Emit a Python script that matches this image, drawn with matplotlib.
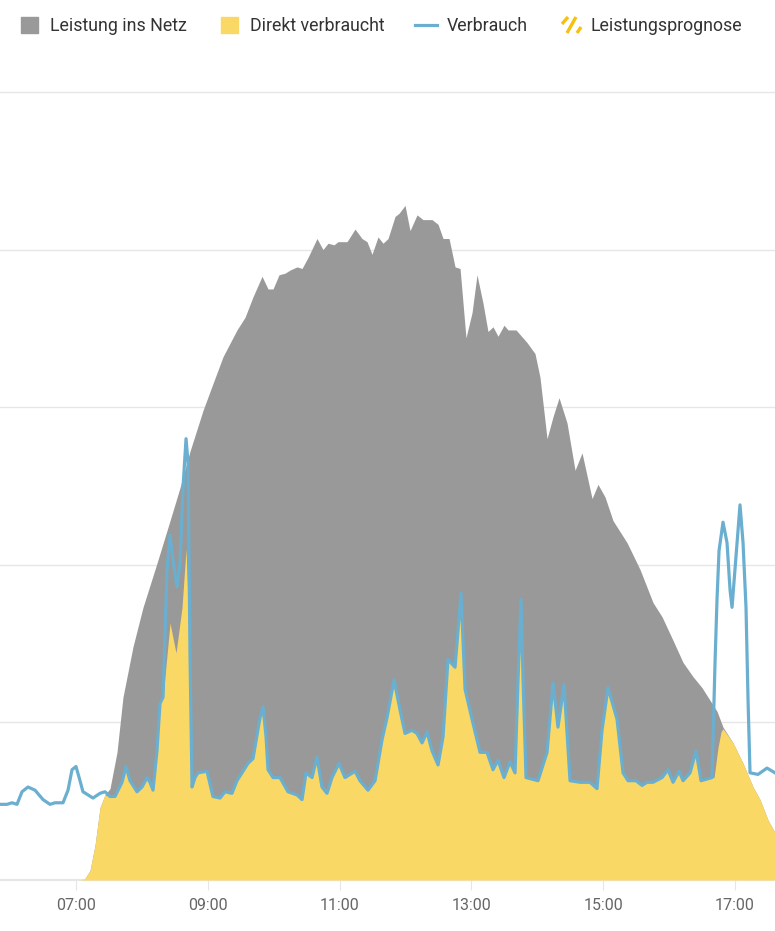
import matplotlib
matplotlib.use('Agg')
import matplotlib.pyplot as plt
from matplotlib.patches import Rectangle
from matplotlib.lines import Line2D

# Leistung (kW) ueber die Uhrzeit (Stunden, dezimal)
prod_hours = [7.061, 7.137, 7.213, 7.289, 7.365, 7.440, 7.516, 7.622, 7.713, 7.865,
	8.017, 8.229, 8.427, 8.579, 8.730, 8.928, 9.079, 9.231, 9.443, 9.565,
	9.686, 9.823, 9.914, 9.990, 10.081, 10.172, 10.248, 10.354, 10.430, 10.521,
	10.657, 10.748, 10.824, 10.915, 10.976, 11.113, 11.234, 11.340, 11.416, 11.492,
	11.583, 11.659, 11.735, 11.841, 11.902, 11.993, 12.069, 12.175, 12.266, 12.403,
	12.494, 12.570, 12.661, 12.752, 12.828, 12.918, 13.010, 13.085, 13.176, 13.252,
	13.328, 13.404, 13.495, 13.556, 13.677, 13.844, 13.965, 14.041, 14.148, 14.239,
	14.330, 14.451, 14.573, 14.679, 14.831, 14.921, 15.028, 15.149, 15.362, 15.559,
	15.756, 15.893, 16.060, 16.212, 16.363, 16.500, 16.621, 16.727, 16.818, 16.970,
	17.122, 17.274, 17.380, 17.501, 17.607, 17.835, 17.990]
prod_kw = [0.00, 0.01, 0.06, 0.22, 0.46, 0.54, 0.58, 0.81, 1.16, 1.48,
	1.73, 2.01, 2.28, 2.49, 2.72, 2.98, 3.15, 3.32, 3.49, 3.57,
	3.70, 3.83, 3.75, 3.75, 3.84, 3.85, 3.87, 3.89, 3.88, 3.95,
	4.07, 4.00, 4.04, 4.03, 4.05, 4.05, 4.13, 4.07, 4.05, 3.97,
	4.08, 4.04, 4.07, 4.21, 4.23, 4.28, 4.12, 4.22, 4.19, 4.19,
	4.16, 4.07, 4.07, 3.89, 3.88, 3.44, 3.60, 3.84, 3.66, 3.48,
	3.51, 3.45, 3.52, 3.49, 3.49, 3.41, 3.34, 3.19, 2.80, 2.94,
	3.06, 2.90, 2.60, 2.71, 2.42, 2.51, 2.43, 2.28, 2.14, 1.97,
	1.76, 1.67, 1.52, 1.38, 1.29, 1.22, 1.14, 1.07, 0.97, 0.87,
	0.74, 0.59, 0.51, 0.38, 0.30, 0.06, 0.00]

cons_hours = [5.847, 5.953, 6.029, 6.105, 6.181, 6.272, 6.378, 6.500, 6.606, 6.682,
	6.803, 6.879, 6.940, 7.000, 7.061, 7.106, 7.182, 7.258, 7.365, 7.440,
	7.516, 7.592, 7.698, 7.759, 7.820, 7.926, 8.002, 8.078, 8.123, 8.169,
	8.229, 8.275, 8.321, 8.381, 8.427, 8.472, 8.533, 8.579, 8.624, 8.670,
	8.700, 8.730, 8.761, 8.806, 8.852, 8.988, 9.079, 9.186, 9.261, 9.367,
	9.443, 9.534, 9.610, 9.686, 9.793, 9.838, 9.884, 9.914, 9.990, 10.096,
	10.217, 10.354, 10.430, 10.490, 10.582, 10.657, 10.733, 10.809, 10.885, 10.991,
	11.082, 11.234, 11.310, 11.431, 11.538, 11.644, 11.720, 11.826, 11.917, 11.993,
	12.099, 12.175, 12.251, 12.327, 12.403, 12.494, 12.570, 12.645, 12.752, 12.843,
	12.904, 13.010, 13.131, 13.237, 13.328, 13.404, 13.495, 13.586, 13.662, 13.708,
	13.753, 13.784, 13.829, 14.011, 14.148, 14.239, 14.314, 14.406, 14.497, 14.649,
	14.800, 14.906, 14.982, 15.073, 15.210, 15.301, 15.377, 15.498, 15.589, 15.665,
	15.756, 15.893, 15.984, 16.060, 16.151, 16.212, 16.318, 16.409, 16.485, 16.651,
	16.697, 16.727, 16.758, 16.818, 16.879, 16.925, 16.955, 17.000, 17.031, 17.076,
	17.122, 17.167, 17.198, 17.228, 17.349, 17.486, 17.607]
cons_kw = [0.48, 0.48, 0.49, 0.48, 0.56, 0.59, 0.57, 0.51, 0.48, 0.49,
	0.49, 0.57, 0.70, 0.72, 0.63, 0.56, 0.54, 0.52, 0.55, 0.56,
	0.53, 0.53, 0.62, 0.72, 0.63, 0.56, 0.59, 0.65, 0.62, 0.57,
	0.82, 1.12, 1.16, 1.97, 2.19, 2.03, 1.86, 2.01, 2.49, 2.80,
	2.65, 1.44, 0.59, 0.65, 0.68, 0.69, 0.53, 0.52, 0.56, 0.55,
	0.63, 0.69, 0.74, 0.77, 1.03, 1.10, 0.91, 0.70, 0.65, 0.65,
	0.56, 0.54, 0.51, 0.68, 0.65, 0.78, 0.59, 0.55, 0.65, 0.74,
	0.65, 0.69, 0.63, 0.57, 0.63, 0.89, 1.03, 1.27, 1.08, 0.93,
	0.95, 0.93, 0.87, 0.94, 0.82, 0.73, 0.91, 1.40, 1.35, 1.82,
	1.21, 1.02, 0.81, 0.81, 0.70, 0.76, 0.65, 0.75, 0.68, 1.27,
	1.78, 1.27, 0.65, 0.63, 0.81, 1.25, 0.97, 1.24, 0.63, 0.62,
	0.62, 0.58, 0.95, 1.22, 1.02, 0.68, 0.63, 0.63, 0.60, 0.62,
	0.62, 0.65, 0.70, 0.62, 0.69, 0.63, 0.68, 0.82, 0.63, 0.65,
	1.38, 1.78, 2.09, 2.27, 2.14, 1.84, 1.73, 1.97, 2.14, 2.38,
	2.14, 1.73, 1.14, 0.68, 0.67, 0.71, 0.68]

direct_hours = [7.061, 7.137, 7.213, 7.289, 7.365, 7.440, 7.516, 7.592, 7.698, 7.759,
	7.820, 7.926, 8.002, 8.078, 8.123, 8.169, 8.229, 8.275, 8.321, 8.427,
	8.518, 8.609, 8.670, 8.730, 8.761, 8.806, 8.852, 8.988, 9.079, 9.186,
	9.261, 9.367, 9.443, 9.534, 9.610, 9.686, 9.793, 9.838, 9.884, 9.914,
	9.990, 10.096, 10.217, 10.354, 10.430, 10.490, 10.582, 10.657, 10.733, 10.809,
	10.885, 10.991, 11.082, 11.234, 11.310, 11.431, 11.538, 11.644, 11.720, 11.826,
	11.917, 11.993, 12.099, 12.175, 12.251, 12.327, 12.403, 12.494, 12.570, 12.645,
	12.752, 12.843, 12.904, 13.010, 13.131, 13.237, 13.328, 13.404, 13.495, 13.586,
	13.662, 13.708, 13.753, 13.784, 13.829, 14.011, 14.148, 14.239, 14.314, 14.406,
	14.497, 14.649, 14.800, 14.906, 14.982, 15.073, 15.210, 15.301, 15.377, 15.498,
	15.589, 15.665, 15.756, 15.893, 15.984, 16.060, 16.151, 16.212, 16.318, 16.409,
	16.485, 16.651, 16.682, 16.742, 16.788, 16.818, 16.970, 17.122, 17.274, 17.380,
	17.501, 17.607, 17.835, 17.990]
direct_kw = [0.00, 0.01, 0.06, 0.22, 0.46, 0.54, 0.53, 0.53, 0.62, 0.72,
	0.63, 0.56, 0.59, 0.65, 0.62, 0.57, 0.82, 1.12, 1.16, 1.63,
	1.44, 1.73, 2.10, 1.44, 0.59, 0.65, 0.68, 0.69, 0.53, 0.52,
	0.56, 0.55, 0.63, 0.69, 0.74, 0.77, 1.03, 1.10, 0.91, 0.70,
	0.65, 0.65, 0.56, 0.54, 0.51, 0.68, 0.65, 0.78, 0.59, 0.55,
	0.65, 0.74, 0.65, 0.69, 0.63, 0.57, 0.63, 0.89, 1.03, 1.27,
	1.08, 0.93, 0.95, 0.93, 0.87, 0.94, 0.82, 0.73, 0.91, 1.40,
	1.35, 1.82, 1.21, 1.02, 0.81, 0.81, 0.70, 0.76, 0.65, 0.75,
	0.68, 1.27, 1.59, 1.27, 0.65, 0.63, 0.81, 1.25, 0.97, 1.24,
	0.63, 0.62, 0.62, 0.58, 0.95, 1.22, 1.02, 0.68, 0.63, 0.63,
	0.60, 0.62, 0.62, 0.65, 0.70, 0.62, 0.69, 0.63, 0.68, 0.82,
	0.63, 0.65, 0.65, 0.84, 0.94, 0.96, 0.87, 0.74, 0.59, 0.51,
	0.38, 0.30, 0.06, 0.00]

tick_hours = [7, 9, 11, 13, 15, 17]
tick_labels = ['07:00', '09:00', '11:00', '13:00', '15:00', '17:00']
legend_labels = ['Leistung ins Netz', 'Direkt verbraucht', 'Verbrauch', 'Leistungsprognose']

GREY = '#999999'
YELLOW = '#fad866'
BLUE = '#6aafd0'
GOLD = '#f5c010'
GRID = '#e6e6e6'

plt.rcParams['font.family'] = ['Roboto', 'DejaVu Sans']

W, H = 775, 931
fig = plt.figure(figsize=(W / 100, H / 100), dpi=100)
ax = fig.add_axes([0, 51 / H, 1, (880 - 88.8) / H])

ax.fill_between(prod_hours, prod_kw, 0, color=GREY, lw=0, zorder=2)
ax.fill_between(direct_hours, direct_kw, 0, color=YELLOW, lw=0, zorder=3)
ax.plot(cons_hours, cons_kw, color=BLUE, lw=2.3, solid_joinstyle='round', zorder=4)

ax.set_xlim(5.847, 17.607)
ax.set_ylim(0, 5.02)
ax.set_yticks([1, 2, 3, 4, 5])
ax.yaxis.grid(True, color=GRID, lw=1.0, zorder=0)
ax.tick_params(axis='y', left=False, labelleft=False)
ax.set_xticks(tick_hours)
ax.set_xticklabels(tick_labels)
ax.tick_params(axis='x', length=7, width=0.8, color=GRID, labelcolor='#666666',
	labelsize=11.5, pad=6)
for side in ['left', 'right', 'top']:
	ax.spines[side].set_visible(False)
ax.spines['bottom'].set_color(GRID)
ax.spines['bottom'].set_linewidth(1.5)
ax.set_axisbelow(True)

# Legende oben, von Hand gesetzt
def fx(x):
	return x / W

def fy(y):
	return 1 - y / H

fig.add_artist(Rectangle((fx(21), fy(33)), 17 / W, 16 / H, color=GREY, transform=fig.transFigure))
fig.add_artist(Rectangle((fx(221), fy(33)), 17 / W, 16 / H, color=YELLOW, transform=fig.transFigure))
fig.add_artist(Line2D([fx(415), fx(437)], [fy(25), fy(25)], color=BLUE, lw=2.3,
	transform=fig.transFigure))
for x0, y0, x1, y1 in [(562, 24, 568, 17), (567, 33, 576, 17), (577, 33, 581, 27)]:
	fig.add_artist(Line2D([fx(x0), fx(x1)], [fy(y0), fy(y1)], color=GOLD, lw=2.4,
		solid_capstyle='butt', transform=fig.transFigure))

for x, label in zip([50, 250, 447, 591], legend_labels):
	fig.text(fx(x), fy(31), label, color='#333333', fontsize=12.8, va='baseline', ha='left')

fig.savefig('out.png', dpi=100)
